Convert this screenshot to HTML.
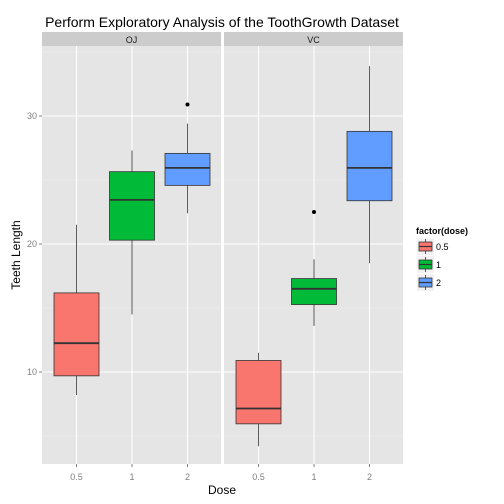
<!DOCTYPE html>
<html><head><meta charset="utf-8"><style>body{margin:0;background:#fff}svg{display:block}text{font-family:"Liberation Sans",sans-serif}</style></head>
<body>
<svg id="c" width="504" height="504"></svg>
<script>
const panels=["OJ","VC"];
const doses=["0.5","1","2"];
const mins=[[8.2,14.5,22.4],[4.2,13.6,18.5]];
const q1s=[[9.7,20.3,24.58],[5.95,15.27,23.38]];
const meds=[[12.25,23.45,25.95],[7.15,16.5,25.95]];
const q3s=[[16.18,25.65,27.08],[10.9,17.3,28.8]];
const maxs=[[21.5,27.3,29.4],[11.5,18.8,33.9]];
const outliers=[[[],[],[30.9]],[[],[22.5],[]]];
const yTicks=[10,20,30];
const colors=["#F8766D","#00BA38","#619CFF"];
const ns="http://www.w3.org/2000/svg",svg=document.getElementById('c');
function el(t,a,txt){const e=document.createElementNS(ns,t);for(const k in a)e.setAttribute(k,a[k]);if(txt!=null)e.textContent=txt;svg.appendChild(e);return e;}
const topY=46,botY=464,pw=179,px=[42,224],step=55.5,off=34.5;
const y=v=>372-(v-10)*12.8;
const x=(p,i)=>px[p]+off+i*step;
let t=el('text',{x:222,y:27,'font-size':14,'text-anchor':'middle',fill:'#000'},'Perform Exploratory Analysis of the ToothGrowth Dataset');


panels.forEach((pn,p)=>{
  let s=el('rect',{x:px[p],y:32,width:pw,height:14,fill:'#cccccc'});
  
  
  let st=el('text',{x:px[p]+pw/2,y:43,'font-size':9,'text-anchor':'middle',fill:'#1a1a1a'},pn);
  
  
  let bg=el('rect',{x:px[p],y:topY,width:pw,height:botY-topY,fill:'#e5e5e5'});
  
  
  [5,15,25,35].forEach(v=>{if(y(v)>topY&&y(v)<botY){let g=el('line',{x1:px[p],x2:px[p]+pw,y1:y(v),y2:y(v),stroke:'#f2f2f2','stroke-width':0.6});
    
    }});
  yTicks.forEach(v=>{let g=el('line',{x1:px[p],x2:px[p]+pw,y1:y(v),y2:y(v),stroke:'#fff','stroke-width':1.1});
    
    });
  doses.forEach((d,i)=>{let g=el('line',{x1:x(p,i),x2:x(p,i),y1:topY,y2:botY,stroke:'#fff','stroke-width':1.1});
    
    
    let tk=el('line',{x1:x(p,i),x2:x(p,i),y1:botY,y2:botY+3,stroke:'#7f7f7f'});
    
    
    let tl=el('text',{x:x(p,i),y:botY+16,'font-size':9,'text-anchor':'middle',fill:'#7f7f7f'},d);
    
    
  });
  doses.forEach((d,i)=>{
    const cx=x(p,i),w=45;
    let wh=el('line',{x1:cx,x2:cx,y1:y(maxs[p][i]),y2:y(mins[p][i]),stroke:'#333','stroke-width':0.8});
    
    
    let b=el('rect',{x:cx-w/2,y:y(q3s[p][i]),width:w,height:y(q1s[p][i])-y(q3s[p][i]),fill:colors[i],stroke:'#333','stroke-width':0.8});
    
    
    let m=el('line',{x1:cx-w/2,x2:cx+w/2,y1:y(meds[p][i]),y2:y(meds[p][i]),stroke:'#333','stroke-width':1.8});
    
    
    outliers[p][i].forEach(o=>{let c=el('circle',{cx:cx,cy:y(o),r:2,fill:'#000'});
      
      });
  });
});
yTicks.forEach(v=>{let tk=el('line',{x1:39,x2:42,y1:y(v),y2:y(v),stroke:'#7f7f7f'});
  
  
  let tl=el('text',{x:37,y:y(v)+3,'font-size':9,'text-anchor':'end',fill:'#7f7f7f'},v);
  
  });
let xt=el('text',{x:222,y:494,'font-size':12,'text-anchor':'middle',fill:'#000'},'Dose');


let yt=el('text',{x:0,y:0,'font-size':12,'text-anchor':'middle',fill:'#000',transform:'translate(20,255) rotate(-90)'},'Teeth Length');


let lt=el('text',{x:416,y:234,'font-size':9,'font-weight':'bold',fill:'#000'},'factor(dose)');


doses.forEach((d,i)=>{const ky=238+i*18;
  let k=el('rect',{x:417,y:ky,width:17,height:17,fill:'#f2f2f2'});
  
  
  let l=el('line',{x1:425.5,x2:425.5,y1:ky+1,y2:ky+16,stroke:'#333','stroke-width':0.8});
  
  
  let r=el('rect',{x:419,y:ky+4,width:13,height:9,fill:colors[i],stroke:'#333','stroke-width':0.8});
  
  
  let m=el('line',{x1:419,x2:432,y1:ky+8.5,y2:ky+8.5,stroke:'#333','stroke-width':1.2});
  
  
  let lb=el('text',{x:436,y:ky+12,'font-size':9,fill:'#000'},d);
  
  
});
</script>
</body></html>
